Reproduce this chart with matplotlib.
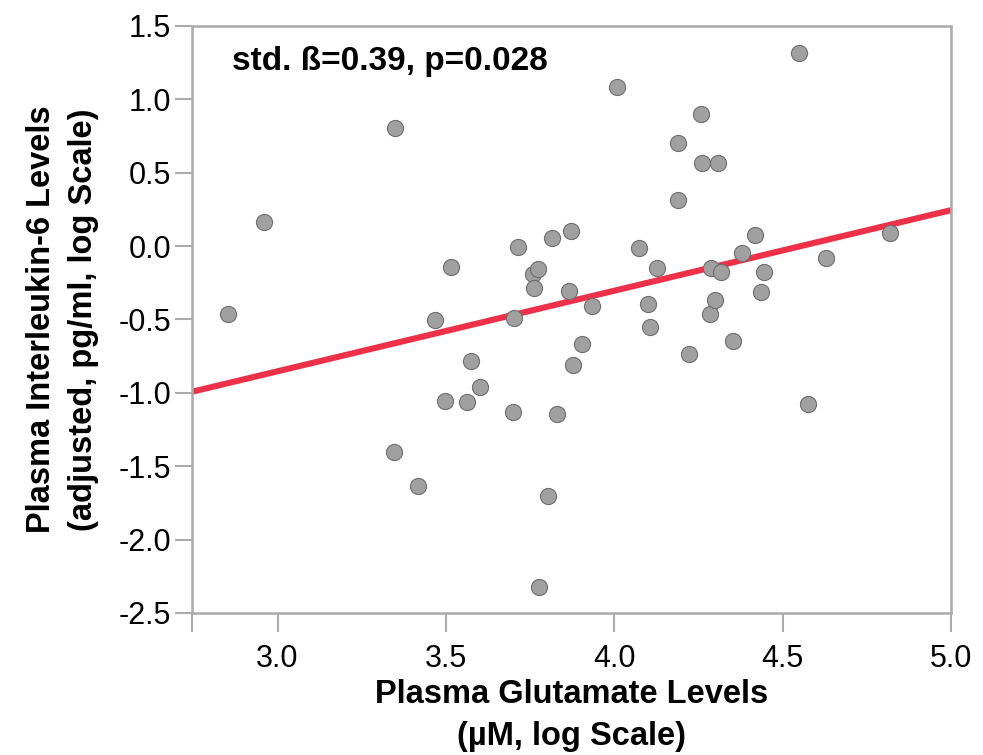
import numpy as np
import matplotlib
matplotlib.use('Agg')
import matplotlib.pyplot as plt

plt.rcParams['font.family'] = ['Liberation Sans', 'DejaVu Sans']

# data
glutamate = [2.854, 2.961, 3.349, 3.347, 3.417, 3.468, 3.514, 3.497, 3.562, 3.574,
             3.601, 3.700, 3.702, 3.715, 3.760, 3.762, 3.774, 3.777, 3.814, 3.804,
             3.829, 3.866, 3.871, 3.878, 3.903, 3.935, 4.009, 4.074, 4.101, 4.107,
             4.126, 4.223, 4.190, 4.190, 4.258, 4.259, 4.307, 4.287, 4.284, 4.298,
             4.317, 4.352, 4.380, 4.418, 4.436, 4.445, 4.548, 4.576, 4.629, 4.819]
il6 = [-0.463, 0.164, 0.803, -1.403, -1.635, -0.505, -0.140, -1.053, -1.060, -0.785,
       -0.962, -1.132, -0.492, -0.004, -0.190, -0.287, -0.158, -2.323, 0.053, -1.701,
       -1.141, -0.304, 0.103, -0.810, -0.667, -0.406, 1.082, -0.011, -0.396, -0.549,
       -0.147, -0.735, 0.701, 0.314, 0.900, 0.568, 0.564, -0.147, -0.464, -0.368,
       -0.174, -0.645, -0.049, 0.076, -0.316, -0.178, 1.318, -1.074, -0.079, 0.091]

fit_slope = 0.549
fit_intercept = -2.50
annotation = 'std. ß=0.39, p=0.028'

xticks = [3.0, 3.5, 4.0, 4.5, 5.0]
yticks = [1.5, 1.0, 0.5, 0.0, -0.5, -1.0, -1.5, -2.0, -2.5]
xmin, xmax = 2.746, 5.0

fig = plt.figure(figsize=(9.83, 7.55), dpi=100)
ax = fig.add_axes([0.1953, 0.1881, 0.7722, 0.7775])

xs = np.array([xmin, xmax])
ax.plot(xs, fit_intercept + fit_slope * xs, color='#ee3148', linewidth=4.4, zorder=2,
        solid_capstyle='butt')
ax.scatter(glutamate, il6, s=135, color='#a0a0a0', edgecolor='#6e6e6e',
           linewidth=0.8, zorder=3)

ax.set_xlim(xmin, xmax)
ax.set_ylim(-2.5, 1.5)
ax.set_xticks(xticks)
ax.set_xticklabels([f'{t:.1f}' for t in xticks])
ax.set_xticks([xmin], minor=True)
ax.set_yticks(yticks)
ax.set_yticklabels([f'{t:.1f}' for t in yticks])

for sp in ax.spines.values():
    sp.set_color('#aaaaaa')
    sp.set_linewidth(1.8)

ax.tick_params(axis='both', which='both', colors='#aaaaaa', labelcolor='black',
               width=1.5, labelsize=22)
ax.tick_params(axis='y', length=12, pad=3)
ax.tick_params(axis='x', which='both', length=14, pad=8)

ax.set_xlabel('Plasma Glutamate Levels\n(µM, log Scale)', fontsize=23.5,
              fontweight='bold', labelpad=4, linespacing=1.45)
ax.set_ylabel('Plasma Interleukin-6 Levels\n(adjusted, pg/ml, log Scale)', fontsize=23.5,
              fontweight='bold', labelpad=14, linespacing=1.45)

ax.text(0.053, 0.939, annotation, transform=ax.transAxes, fontsize=24,
        fontweight='bold', ha='left', va='center')

fig.savefig('out.png', dpi=100)
